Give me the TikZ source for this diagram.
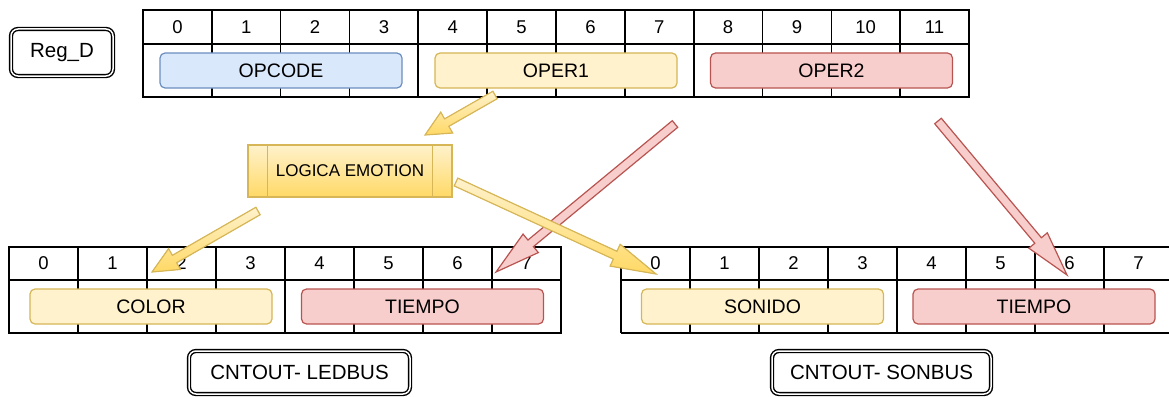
\documentclass[tikz,border=0pt]{standalone}
\usepackage{fontspec}
\setmainfont{Liberation Sans}
\usetikzlibrary{calc}
\definecolor{bluef}{HTML}{DAE8FC}
\definecolor{bluel}{HTML}{6C8EBF}
\definecolor{yelf}{HTML}{FFF2CC}
\definecolor{yell}{HTML}{D6B656}
\definecolor{yeld}{HTML}{FFD966}
\definecolor{redf}{HTML}{F8CECC}
\definecolor{redl}{HTML}{B85450}
% #1 style, #2 start, #3 end, #4 head length, #5 name
\newcommand\flexarr[5]{%
  \coordinate (#5-n) at ($(#3)!#4!(#2)$);
  \filldraw[#1] ($(#2)!4.3pt!90:(#3)$) -- ($(#5-n)!4.3pt!90:(#3)$) -- ($(#5-n)!12pt!90:(#3)$) -- (#3)
     -- ($(#5-n)!12pt!-90:(#3)$) -- ($(#5-n)!4.3pt!-90:(#3)$) -- ($(#2)!4.3pt!-90:(#3)$) -- cycle;}
\tikzset{
  grid/.style={draw=black, line width=1.5pt},
  gridthick/.style={draw=black, line width=2pt},
  digit/.style={font=\fontsize{18.5}{20}\selectfont, inner sep=0pt},
  field/.style={rounded corners=5pt, line width=1.2pt, minimum width=242pt, minimum height=35pt,
    inner sep=0pt, font=\fontsize{19.5}{21}\selectfont},
  bluefield/.style={field, fill=bluef, draw=bluel},
  yelfield/.style={field, fill=yelf, draw=yell},
  redfield/.style={field, fill=redf, draw=redl},
  label/.style={draw=black, double=white, double distance=1.5pt, line width=1.4pt,
    rounded corners=7pt, inner sep=0pt, font=\fontsize{20.5}{22}\selectfont},
  proc/.style={draw=yell, line width=1.2pt, top color=yelf, bottom color=yeld,
    minimum width=204pt, minimum height=52pt, inner sep=0pt, font=\fontsize{17}{19}\selectfont},
  yarrow/.style={draw=yell, line width=1.2pt, top color=yelf, bottom color=yeld, line join=miter},
  rarrow/.style={draw=redl, line width=1.2pt, fill=redf, line join=miter},
}
\begin{document}
\begin{tikzpicture}[x=1pt, y=-1pt]
\useasboundingbox (0,0) rectangle (1169,396);
% ---------- top register ----------
\foreach \i in {1,...,11} {\draw[grid] ({143+\i*68.83},10) -- ({143+\i*68.83},97);}
\foreach \i in {4,8} {\draw[gridthick] ({143+\i*68.83},10) -- ({143+\i*68.83},97);}
\draw[grid] (143,44) -- (969,44);
\draw[gridthick] (143,10) rectangle (969,97);
\foreach \i in {0,...,11} {\node[digit] (t\i) at ({143+(\i+0.5)*68.83},27) {\i};}
% ---------- bottom-left register ----------
\foreach \i in {1,...,7} {\draw[grid] ({9+\i*69},247) -- ({9+\i*69},333);}
\draw[gridthick] ({9+4*69},247) -- ({9+4*69},333);
\draw[grid] (9,280) -- (561,280);
\draw[gridthick] (9,247) rectangle (561,333);
\foreach \i in {0,...,7} {\node[digit] (l\i) at ({9+(\i+0.5)*69},263.5) {\i};}
% ---------- bottom-right register ----------
\foreach \i in {1,...,7} {\draw[grid] ({621+\i*69},247) -- ({621+\i*69},333);}
\draw[gridthick] ({621+4*69},247) -- ({621+4*69},333);
\draw[grid] (621,280) -- (1175,280);
\draw[gridthick] (621,247) -- (1175,247) (621,333) -- (1175,333) (621,247) -- (621,333);
\foreach \i in {0,...,7} {\node[digit] (r\i) at ({621+(\i+0.5)*69},263.5) {\i};}
% ---------- fields ----------
\node[bluefield] (opcode) at (281,70.5) {OPCODE};
\node[yelfield] (oper1) at (556,70.5) {OPER1};
\node[redfield] (oper2) at (831.5,70.5) {OPER2};
\node[yelfield] (color) at (151,306.5) {COLOR};
\node[redfield] (tiempoA) at (422.5,306.5) {TIEMPO};
\node[yelfield] (sonido) at (762.5,306.5) {SONIDO};
\node[redfield] (tiempoB) at (1034,306.5) {TIEMPO};
% ---------- labels ----------
\node[label, minimum width=102pt, minimum height=47pt] (regd) at (62,52.5) {Reg\_D};
\node[label, minimum width=221pt, minimum height=43pt] (ledbus) at (299.5,372.5) {CNTOUT- LEDBUS};
\node[label, minimum width=219pt, minimum height=43pt] (sonbus) at (881.5,372.5) {CNTOUT- SONBUS};
% ---------- process ----------
\node[proc] (logic) at (350,171) {LOGICA EMOTION};
\draw[draw=yell, line width=1.2pt] ($(logic.north west)+(20,0)$) -- ($(logic.south west)+(20,0)$)
  ($(logic.north east)+(-20,0)$) -- ($(logic.south east)+(-20,0)$);
% ---------- arrows ----------
\coordinate (a1s) at (495,95);   \coordinate (a1e) at (425,135);
\coordinate (a2s) at (258,211);  \coordinate (a2e) at (152,272);
\coordinate (a3s) at (456,182);  \coordinate (a3e) at (656,274);
\coordinate (a4s) at (675,124);  \coordinate (a4e) at (496,272);
\coordinate (a5s) at (938,121);  \coordinate (a5e) at (1067,275);
\flexarr{rarrow}{a4s}{a4e}{45pt}{a4}
\flexarr{rarrow}{a5s}{a5e}{45pt}{a5}
\flexarr{yarrow}{a1s}{a1e}{25pt}{a1}
\flexarr{yarrow}{a2s}{a2e}{26pt}{a2}
\flexarr{yarrow}{a3s}{a3e}{45pt}{a3}
\end{tikzpicture}
\end{document}
